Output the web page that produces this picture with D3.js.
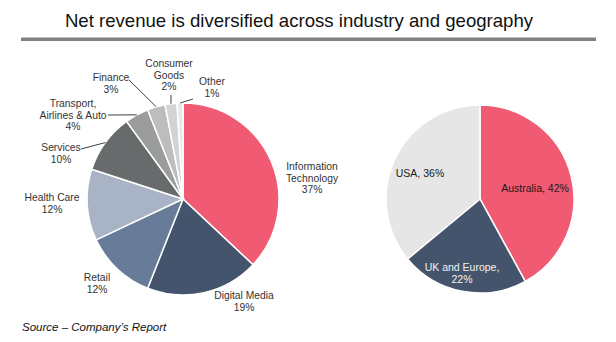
<!DOCTYPE html>
<html>
<head>
<meta charset="utf-8">
<script src="https://cdn.jsdelivr.net/npm/d3@7"></script>
<style>
  body { margin: 0; background: #fff; }
  svg { display: block; font-family: "Liberation Sans", Arial, sans-serif; }
</style>
</head>
<body>
<div id="chart"></div>
<script>

// industry split (left pie), clockwise from 12 o'clock
var industryNames  = ["Information\nTechnology", "Digital Media", "Retail", "Health Care", "Services",
                      "Transport,\nAirlines & Auto", "Finance", "Consumer\nGoods", "Other"];
var industryValues = [37, 19, 12, 12, 10, 4, 3, 2, 1];
var industryColors = ["#f05a72", "#44546c", "#687c9a", "#a8b4c6", "#686b6c",
                      "#9b9d9d", "#bcbebe", "#d2d3d3", "#e8e8e8"];

// geography split (right pie)
var geoNames  = ["Australia", "UK and Europe", "USA"];
var geoValues = [42, 22, 36];
var geoColors = ["#f05a72", "#44546c", "#e6e6e6"];
var geoText   = ["#1a1a1a", "#f2f2f2", "#1a1a1a"];

var W = 616, H = 342;

var svg = d3.select("#chart").append("svg")
            .attr("width", W)
            .attr("height", H);

// title + rule
svg.append("text")
   .attr("x", 299).attr("y", 27)
   .attr("text-anchor", "middle")
   .attr("font-size", 18.6)
   .attr("fill", "#111")
   .text("Net revenue is diversified across industry and geography");

svg.append("rect")
   .attr("x", 21).attr("y", 37.5)
   .attr("width", 575).attr("height", 3.5)
   .attr("fill", "#808080");

var pie = d3.pie().sort(null).value(function(d) { return d.value; });

// ---------- left pie ----------
var left = {cx: 183, cy: 199, r: 96};

var indData = industryNames.map(function(n, i) {
  return {name: n, value: industryValues[i], color: industryColors[i]};
});

var arcL = d3.arc().innerRadius(0).outerRadius(left.r);
var edgeL = d3.arc().innerRadius(left.r).outerRadius(left.r);

var gL = svg.append("g").attr("transform", "translate(" + left.cx + "," + left.cy + ")");

var slicesL = pie(indData);

gL.selectAll("path.slice")
  .data(slicesL)
  .enter().append("path")
  .attr("class", "slice")
  .attr("d", arcL)
  .attr("fill", function(d) { return d.data.color; })
  .attr("stroke", "#fff")
  .attr("stroke-width", 1.5);

// label anchors (offset from pie centre, centre of text block) and leader ends
var indLabelOffset = [[129, -21], [61, 102], [-86, 84], [-131, 4], [-122, -46],
                      [-110, -84], [-72, -116], [-14, -124], [29, -112]];
var indLeaderEnd   = [null, null, null, null, [-102, -50],
                      [-75, -84], [-54, -119], [-12, -104], [10, -100]];

gL.selectAll("path.leader")
  .data(slicesL.filter(function(d, i) { return indLeaderEnd[i]; }))
  .enter().append("path")
  .attr("class", "leader")
  .attr("fill", "none")
  .attr("stroke", "#404040")
  .attr("stroke-width", 1)
  .attr("d", function(d) {
    var p = edgeL.centroid(d), e = indLeaderEnd[d.index];
    return "M" + p[0] + "," + p[1] + "L" + e[0] + "," + e[1];
  });

var lblL = gL.selectAll("text.lbl")
  .data(slicesL)
  .enter().append("text")
  .attr("class", "lbl")
  .attr("text-anchor", "middle")
  .attr("font-size", 10.3)
  .attr("fill", "#333");

lblL.each(function(d, i) {
  var lines = d.data.name.split("\n").concat([d.data.value + "%"]);
  var off = indLabelOffset[i];
  var lh = 11.8;
  var y0 = off[1] - (lines.length - 1) * lh / 2 + 3.6;
  d3.select(this).selectAll("tspan")
    .data(lines)
    .enter().append("tspan")
    .attr("x", off[0])
    .attr("y", function(t, k) { return y0 + k * lh; })
    .text(function(t) { return t; });
});

// ---------- right pie ----------
var right = {cx: 480, cy: 199, r: 94};

var geoData = geoNames.map(function(n, i) {
  return {name: n, value: geoValues[i], color: geoColors[i], tc: geoText[i]};
});

var arcR = d3.arc().innerRadius(0).outerRadius(right.r);
var gR = svg.append("g").attr("transform", "translate(" + right.cx + "," + right.cy + ")");
var slicesR = pie(geoData);

gR.selectAll("path.slice")
  .data(slicesR)
  .enter().append("path")
  .attr("class", "slice")
  .attr("d", arcR)
  .attr("fill", function(d) { return d.data.color; })
  .attr("stroke", "#fff")
  .attr("stroke-width", 1.5);

var geoLabelOffset = [[55, -11], [-18, 74], [-60, -26]];

gR.selectAll("text.lbl")
  .data(slicesR)
  .enter().append("text")
  .attr("class", "lbl")
  .attr("text-anchor", "middle")
  .attr("font-size", 10.5)
  .attr("fill", function(d) { return d.data.tc; })
  .each(function(d, i) {
    var lines = d.data.name == "UK and Europe" ? [d.data.name + ",", d.data.value + "%"]
                                              : [d.data.name + ", " + d.data.value + "%"];
    var off = geoLabelOffset[i];
    var lh = 12;
    var y0 = off[1] - (lines.length - 1) * lh / 2 + 3.7;
    d3.select(this).selectAll("tspan")
      .data(lines)
      .enter().append("tspan")
      .attr("x", off[0])
      .attr("y", function(t, k) { return y0 + k * lh; })
      .text(function(t) { return t; });
  });

// source note
svg.append("text")
   .attr("x", 22).attr("y", 331)
   .attr("font-size", 11.5)
   .attr("font-style", "italic")
   .attr("fill", "#111")
   .text("Source \u2013 Company\u2019s Report");

</script>
</body>
</html>
